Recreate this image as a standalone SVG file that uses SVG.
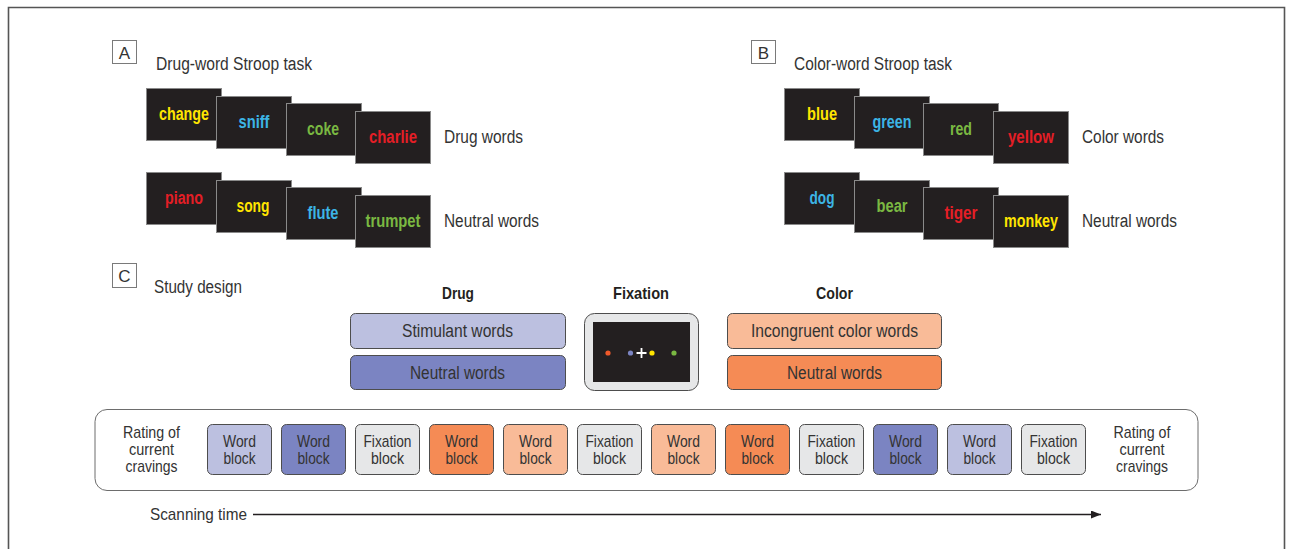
<svg xmlns="http://www.w3.org/2000/svg" width="1289" height="549" viewBox="0 0 1289 549">
<style>
text{font-family:"Liberation Sans",Arial,sans-serif;fill:#333;}
.lbl{font-size:18px;}
.hd{font-size:17px;font-weight:bold;text-anchor:middle;fill:#231F20;}
.card{fill:#231F20;stroke:#8a8a8a;stroke-width:1;}
.cw{font-size:17.5px;font-weight:bold;text-anchor:middle;}
.y{fill:#FFE500;}.b{fill:#3CB4E5;}.g{fill:#7AB842;}.r{fill:#E41E26;}
.tag{fill:#fff;stroke:#7a7a7a;stroke-width:1;}
.tagt{font-size:17px;text-anchor:middle;}
.bx{stroke:#4d4d4d;stroke-width:1;}
.mid{text-anchor:middle;}
.blk{font-size:17px;text-anchor:middle;}
.st{font-size:17px;}
.l1{fill:#BCC0E0;}.l2{fill:#7B84C2;}.o1{fill:#F9BB98;}.o2{fill:#F58B55;}.gr{fill:#E6E7E8;}
</style>
<defs>
<marker id="ah" markerWidth="10" markerHeight="8" refX="10" refY="4" orient="auto" markerUnits="userSpaceOnUse">
<path d="M0,0 L10,4 L0,8 Z" fill="#231F20"/>
</marker>
</defs>
<path d="M8.5,549 V7.5 H1284.5 V549" fill="none" stroke="#555" stroke-width="1.6"/>

<g id="panelA">
<rect class="tag" x="112.5" y="40.5" width="24" height="23"/>
<text class="tagt" x="124.5" y="58.5">A</text>
<text class="lbl" x="156" y="70" textLength="156" lengthAdjust="spacingAndGlyphs">Drug-word Stroop task</text>
<g id="a-change"><rect class="card" x="146.5" y="88.5" width="75" height="52"/><text class="cw y" x="184" y="119.5" textLength="50" lengthAdjust="spacingAndGlyphs">change</text></g>
<g id="a-sniff"><rect class="card" x="216.5" y="96.5" width="75" height="52"/><text class="cw b" x="254" y="127.5" textLength="31" lengthAdjust="spacingAndGlyphs">sniff</text></g>
<g id="a-coke"><rect class="card" x="286.5" y="103.5" width="75" height="52"/><text class="cw g" x="323" y="134.5" textLength="32" lengthAdjust="spacingAndGlyphs">coke</text></g>
<g id="a-charlie"><rect class="card" x="355.5" y="111.5" width="75" height="52"/><text class="cw r" x="393" y="142.5" textLength="48" lengthAdjust="spacingAndGlyphs">charlie</text></g>
<text class="lbl" x="444" y="143" textLength="79" lengthAdjust="spacingAndGlyphs">Drug words</text>
<g id="a-piano"><rect class="card" x="146.5" y="172.5" width="75" height="52"/><text class="cw r" x="184" y="203.5" textLength="38" lengthAdjust="spacingAndGlyphs">piano</text></g>
<g id="a-song"><rect class="card" x="216.5" y="180.5" width="75" height="52"/><text class="cw y" x="253" y="211.5" textLength="33" lengthAdjust="spacingAndGlyphs">song</text></g>
<g id="a-flute"><rect class="card" x="286.5" y="187.5" width="75" height="52"/><text class="cw b" x="323" y="218.5" textLength="31" lengthAdjust="spacingAndGlyphs">flute</text></g>
<g id="a-trumpet"><rect class="card" x="355.5" y="195.5" width="75" height="52"/><text class="cw g" x="393" y="226.5" textLength="55" lengthAdjust="spacingAndGlyphs">trumpet</text></g>
<text class="lbl" x="444" y="227" textLength="95" lengthAdjust="spacingAndGlyphs">Neutral words</text>
</g>

<g id="panelB">
<rect class="tag" x="751.5" y="40.5" width="24" height="23"/>
<text class="tagt" x="763.5" y="58.5">B</text>
<text class="lbl" x="794" y="70" textLength="158" lengthAdjust="spacingAndGlyphs">Color-word Stroop task</text>
<g id="b-blue"><rect class="card" x="784.5" y="88.5" width="75" height="52"/><text class="cw y" x="822" y="119.5" textLength="30" lengthAdjust="spacingAndGlyphs">blue</text></g>
<g id="b-green"><rect class="card" x="854.5" y="96.5" width="75" height="52"/><text class="cw b" x="892" y="127.5" textLength="39" lengthAdjust="spacingAndGlyphs">green</text></g>
<g id="b-red"><rect class="card" x="923.5" y="103.5" width="75" height="52"/><text class="cw g" x="961" y="134.5" textLength="22" lengthAdjust="spacingAndGlyphs">red</text></g>
<g id="b-yellow"><rect class="card" x="993.5" y="111.5" width="75" height="52"/><text class="cw r" x="1031" y="142.5" textLength="46" lengthAdjust="spacingAndGlyphs">yellow</text></g>
<text class="lbl" x="1082" y="143" textLength="82" lengthAdjust="spacingAndGlyphs">Color words</text>
<g id="b-dog"><rect class="card" x="784.5" y="172.5" width="75" height="52"/><text class="cw b" x="822" y="203.5" textLength="25" lengthAdjust="spacingAndGlyphs">dog</text></g>
<g id="b-bear"><rect class="card" x="854.5" y="180.5" width="75" height="52"/><text class="cw g" x="892" y="211.5" textLength="31" lengthAdjust="spacingAndGlyphs">bear</text></g>
<g id="b-tiger"><rect class="card" x="923.5" y="187.5" width="75" height="52"/><text class="cw r" x="961" y="218.5" textLength="33" lengthAdjust="spacingAndGlyphs">tiger</text></g>
<g id="b-monkey"><rect class="card" x="993.5" y="195.5" width="75" height="52"/><text class="cw y" x="1031" y="226.5" textLength="54" lengthAdjust="spacingAndGlyphs">monkey</text></g>
<text class="lbl" x="1082" y="227" textLength="95" lengthAdjust="spacingAndGlyphs">Neutral words</text>
</g>

<g id="panelC">
<rect class="tag" x="112.5" y="263.5" width="24" height="24"/>
<text class="tagt" x="124.5" y="282">C</text>
<text class="lbl" x="154" y="293" textLength="88" lengthAdjust="spacingAndGlyphs">Study design</text>
</g>

<g id="drug">
<text class="hd" x="458" y="299" textLength="32" lengthAdjust="spacingAndGlyphs">Drug</text>
<rect class="bx l1" x="350.5" y="313.5" width="215" height="35" rx="5"/>
<text class="lbl mid" x="457.5" y="336.5" textLength="111" lengthAdjust="spacingAndGlyphs">Stimulant words</text>
<rect class="bx l2" x="350.5" y="355.5" width="215" height="34" rx="5"/>
<text class="lbl mid" x="457.5" y="378.5" textLength="95" lengthAdjust="spacingAndGlyphs">Neutral words</text>
</g>

<g id="fixation">
<text class="hd" x="641" y="298.5" textLength="56" lengthAdjust="spacingAndGlyphs">Fixation</text>
<rect x="584.5" y="313.5" width="114" height="77" rx="10" fill="#E6E7E8" stroke="#4d4d4d" stroke-width="1"/>
<rect x="593" y="322" width="97" height="60" fill="#231F20"/>
<circle cx="608" cy="353" r="2.6" fill="#F0592A"/>
<circle cx="630.5" cy="353" r="2.6" fill="#7B84C2"/>
<path d="M636.5,353 H646.5 M641.5,348 V358" stroke="#fff" stroke-width="1.8"/>
<circle cx="652" cy="353" r="2.6" fill="#FFE500"/>
<circle cx="674" cy="353" r="2.6" fill="#7AB842"/>
</g>

<g id="color">
<text class="hd" x="834.5" y="299" textLength="37" lengthAdjust="spacingAndGlyphs">Color</text>
<rect class="bx o1" x="727.5" y="313.5" width="214" height="35" rx="5"/>
<text class="lbl mid" x="834.5" y="336.5" textLength="167" lengthAdjust="spacingAndGlyphs">Incongruent color words</text>
<rect class="bx o2" x="727.5" y="355.5" width="214" height="34" rx="5"/>
<text class="lbl mid" x="834.5" y="378.5" textLength="95" lengthAdjust="spacingAndGlyphs">Neutral words</text>
</g>

<g id="timeline">
<rect x="95" y="409.5" width="1103" height="81" rx="12" fill="#fff" stroke="#6d6d6d" stroke-width="1"/>
<g id="rating-start">
<text class="blk" x="151.5" y="438" textLength="57" lengthAdjust="spacingAndGlyphs">Rating of</text>
<text class="blk" x="151.5" y="455" textLength="45" lengthAdjust="spacingAndGlyphs">current</text>
<text class="blk" x="151.5" y="472" textLength="52" lengthAdjust="spacingAndGlyphs">cravings</text>
</g>
<g id="blk1"><rect class="bx l1" x="207.5" y="424.5" width="64" height="50" rx="5"/><text class="blk" x="239.5" y="447" textLength="33" lengthAdjust="spacingAndGlyphs">Word</text><text class="blk" x="239.5" y="464" textLength="32" lengthAdjust="spacingAndGlyphs">block</text></g>
<g id="blk2"><rect class="bx l2" x="281.5" y="424.5" width="64" height="50" rx="5"/><text class="blk" x="313.5" y="447" textLength="33" lengthAdjust="spacingAndGlyphs">Word</text><text class="blk" x="313.5" y="464" textLength="32" lengthAdjust="spacingAndGlyphs">block</text></g>
<g id="blk3"><rect class="bx gr" x="355.5" y="424.5" width="64" height="50" rx="5"/><text class="blk" x="387.5" y="447" textLength="48" lengthAdjust="spacingAndGlyphs">Fixation</text><text class="blk" x="387.5" y="464" textLength="33" lengthAdjust="spacingAndGlyphs">block</text></g>
<g id="blk4"><rect class="bx o2" x="429.5" y="424.5" width="64" height="50" rx="5"/><text class="blk" x="461.5" y="447" textLength="33" lengthAdjust="spacingAndGlyphs">Word</text><text class="blk" x="461.5" y="464" textLength="32" lengthAdjust="spacingAndGlyphs">block</text></g>
<g id="blk5"><rect class="bx o1" x="503.5" y="424.5" width="64" height="50" rx="5"/><text class="blk" x="535.5" y="447" textLength="33" lengthAdjust="spacingAndGlyphs">Word</text><text class="blk" x="535.5" y="464" textLength="32" lengthAdjust="spacingAndGlyphs">block</text></g>
<g id="blk6"><rect class="bx gr" x="577.5" y="424.5" width="64" height="50" rx="5"/><text class="blk" x="609.5" y="447" textLength="48" lengthAdjust="spacingAndGlyphs">Fixation</text><text class="blk" x="609.5" y="464" textLength="33" lengthAdjust="spacingAndGlyphs">block</text></g>
<g id="blk7"><rect class="bx o1" x="651.5" y="424.5" width="64" height="50" rx="5"/><text class="blk" x="683.5" y="447" textLength="33" lengthAdjust="spacingAndGlyphs">Word</text><text class="blk" x="683.5" y="464" textLength="32" lengthAdjust="spacingAndGlyphs">block</text></g>
<g id="blk8"><rect class="bx o2" x="725.5" y="424.5" width="64" height="50" rx="5"/><text class="blk" x="757.5" y="447" textLength="33" lengthAdjust="spacingAndGlyphs">Word</text><text class="blk" x="757.5" y="464" textLength="32" lengthAdjust="spacingAndGlyphs">block</text></g>
<g id="blk9"><rect class="bx gr" x="799.5" y="424.5" width="64" height="50" rx="5"/><text class="blk" x="831.5" y="447" textLength="48" lengthAdjust="spacingAndGlyphs">Fixation</text><text class="blk" x="831.5" y="464" textLength="33" lengthAdjust="spacingAndGlyphs">block</text></g>
<g id="blk10"><rect class="bx l2" x="873.5" y="424.5" width="64" height="50" rx="5"/><text class="blk" x="905.5" y="447" textLength="33" lengthAdjust="spacingAndGlyphs">Word</text><text class="blk" x="905.5" y="464" textLength="32" lengthAdjust="spacingAndGlyphs">block</text></g>
<g id="blk11"><rect class="bx l1" x="947.5" y="424.5" width="64" height="50" rx="5"/><text class="blk" x="979.5" y="447" textLength="33" lengthAdjust="spacingAndGlyphs">Word</text><text class="blk" x="979.5" y="464" textLength="32" lengthAdjust="spacingAndGlyphs">block</text></g>
<g id="blk12"><rect class="bx gr" x="1021.5" y="424.5" width="64" height="50" rx="5"/><text class="blk" x="1053.5" y="447" textLength="48" lengthAdjust="spacingAndGlyphs">Fixation</text><text class="blk" x="1053.5" y="464" textLength="33" lengthAdjust="spacingAndGlyphs">block</text></g>
<g id="rating-end">
<text class="blk" x="1142" y="438" textLength="57" lengthAdjust="spacingAndGlyphs">Rating of</text>
<text class="blk" x="1142" y="455" textLength="45" lengthAdjust="spacingAndGlyphs">current</text>
<text class="blk" x="1142" y="472" textLength="52" lengthAdjust="spacingAndGlyphs">cravings</text>
</g>
</g>

<g id="scan-label">
<text class="st" x="150" y="520" textLength="97" lengthAdjust="spacingAndGlyphs">Scanning time</text>
</g>

<g id="connectors">
<line x1="253" y1="514.5" x2="1101" y2="514.5" stroke="#231F20" stroke-width="1.3" marker-end="url(#ah)"/>
</g>
</svg>
